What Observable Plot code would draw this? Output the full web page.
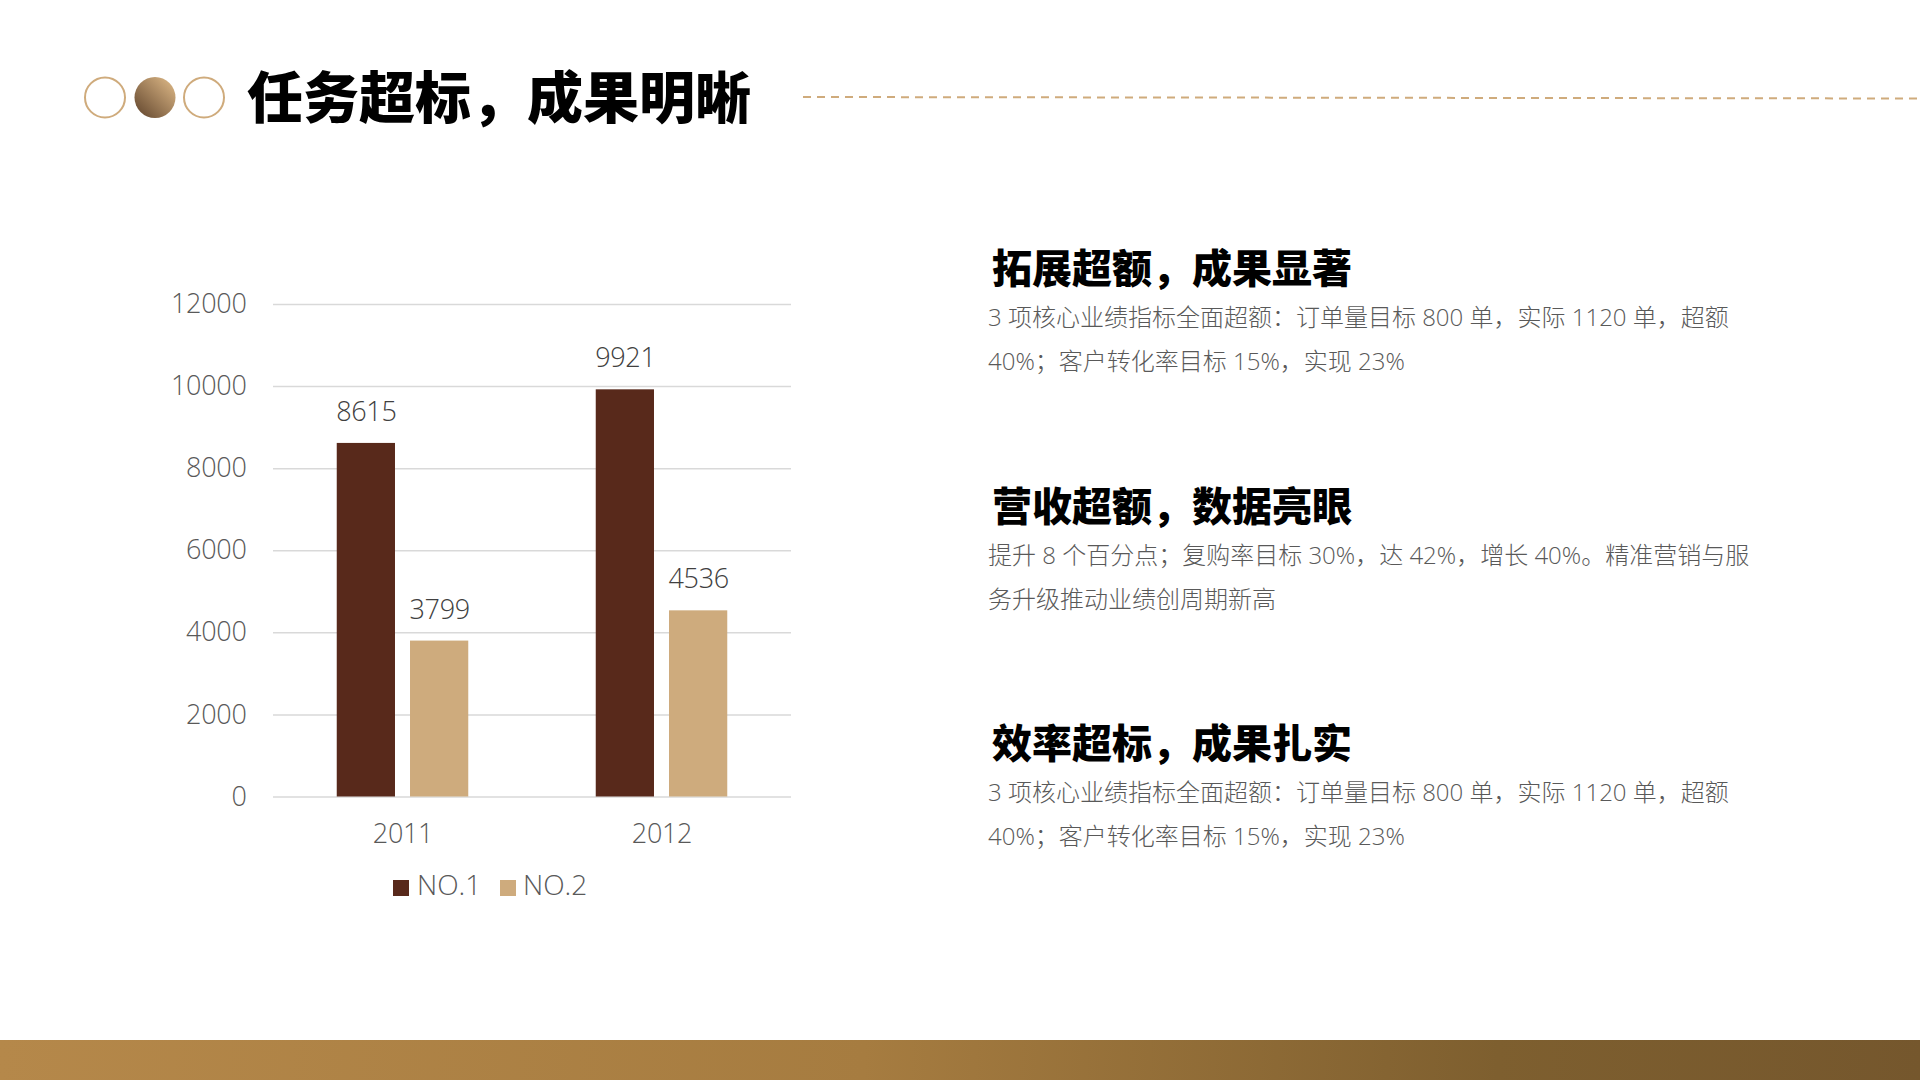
<!DOCTYPE html>
<html lang="zh"><head><meta charset="utf-8">
<script src="https://cdn.jsdelivr.net/npm/d3@7"></script>
<script src="https://cdn.jsdelivr.net/npm/@observablehq/plot@0.6"></script>
<style>
html,body{margin:0;padding:0;background:#fff}
#page{position:relative;width:1920px;height:1080px;overflow:hidden;background:#fff;font-family:"Open Sans","Noto Sans CJK SC",sans-serif}
#page>*{position:absolute}
#title{left:247px;top:54px;font:900 56px/80px "Noto Sans CJK SC",sans-serif;color:#000;white-space:nowrap}
.h{left:992px;font:900 40px/50px "Noto Sans CJK SC",sans-serif;color:#000;white-space:nowrap}
.b{left:988px;font:300 24px/44px "Open Sans","Noto Sans CJK SC",sans-serif;color:#595959;white-space:nowrap}
#bar{left:0;top:1040px;width:1920px;height:40px;background:linear-gradient(92deg,#b5884a 0%,#a67c40 45%,#7e5f2f 78%,#75572d 100%)}
.lg{font:300 28px/30px "Open Sans","Noto Sans CJK SC",sans-serif;color:#595959;white-space:nowrap}
.sw{width:16px;height:16px}
#deco{left:0;top:0}
#chart{left:150px;top:270px}
</style></head>
<body><div id="page">
<svg id="deco" width="1920" height="140">
<defs><linearGradient id="g" x1="0" y1="1" x2="1" y2="0"><stop offset="0.1" stop-color="#6b4e34"/><stop offset="0.85" stop-color="#cfab7c"/></linearGradient></defs>
<circle cx="105" cy="97.5" r="20" fill="none" stroke="#cfab7c" stroke-width="2"/>
<circle cx="155" cy="97.5" r="20.5" fill="url(#g)"/>
<circle cx="204" cy="97.5" r="20" fill="none" stroke="#cfab7c" stroke-width="2"/>
<line x1="803" y1="97" x2="1920" y2="98.5" stroke="#cfab7c" stroke-width="2" stroke-dasharray="8 6"/>
</svg>
<div id="title"></div>
<div id="bar"></div>
<div id="chart"></div>
</div>
<script>
const titleText = "任务超标\uFF0C成果明晰";
const years = ["2011","2012"];
const seriesNames = ["NO.1","NO.2"];
const no1Values = [8615,9921];
const no2Values = [3799,4536];
const colors = ["#58291b","#ceab7d"];
const yTicks = [0,2000,4000,6000,8000,10000,12000];
const headings = ["拓展超额\uFF0C成果显著","营收超额\uFF0C数据亮眼","效率超标\uFF0C成果扎实"];
const bodies = [
 ["3 项核心业绩指标全面超额\uFF1A订单量目标 800 单\uFF0C实际 1120 单\uFF0C超额","40%\uFF1B客户转化率目标 15%\uFF0C实现 23%"],
 ["提升 8 个百分点\uFF1B复购率目标 30%\uFF0C达 42%\uFF0C增长 40%。精准营销与服","务升级推动业绩创周期新高"],
 ["3 项核心业绩指标全面超额\uFF1A订单量目标 800 单\uFF0C实际 1120 单\uFF0C超额","40%\uFF1B客户转化率目标 15%\uFF0C实现 23%"]
];
const headY = [240.5,478.5,715.5];
const bodyY = [295,533,770];

const rows = years.flatMap((y,i)=>[
 {year:y,series:seriesNames[0],value:no1Values[i]},
 {year:y,series:seriesNames[1],value:no2Values[i]}
]);
const tickFont = {fontFamily:'"Open Sans",sans-serif',fontWeight:300,fontSize:27,fill:"#595959"};
const plot = Plot.plot({
 width:680,height:600,marginLeft:123,marginRight:39,marginTop:34,marginBottom:73.5,
 style:{background:"transparent",overflow:"visible",letterSpacing:"-0.3px"},
 fx:{domain:years,padding:0,label:null},
 x:{domain:seriesNames,paddingInner:0.205,paddingOuter:0.87,round:false,axis:null,label:null},
 y:{domain:[0,12000],label:null},
 color:{domain:seriesNames,range:colors},
 marks:[
  Plot.ruleY(yTicks,{stroke:"#d9d9d9",strokeWidth:1.5}),
  Plot.barY(rows,{fx:"year",x:"series",y:"value",fill:"series"}),
  Plot.text(rows,{fx:"year",x:"series",y:"value",text:d=>String(d.value),dy:-31,lineAnchor:"middle",textAnchor:"middle",...tickFont,fill:"#404040"}),
  Plot.axisY({ticks:yTicks,tickSize:0,tickPadding:27,tickFormat:d=>String(d),label:null,...tickFont}),
  Plot.axisFx({anchor:"bottom",tickSize:0,tickPadding:27,label:null,...tickFont})
 ]
});
document.getElementById("chart").appendChild(plot);

const page=document.getElementById("page");
document.getElementById("title").textContent=titleText;
headings.forEach((t,i)=>{
 const h=document.createElement("div");h.className="h";h.textContent=t;h.style.top=headY[i]+"px";page.appendChild(h);
 const b=document.createElement("div");b.className="b";b.style.top=bodyY[i]+"px";
 b.innerHTML=bodies[i].join("<br>");page.appendChild(b);
});
const swX=[393,500],txtX=[417,523];
seriesNames.forEach((s,i)=>{
 const sw=document.createElement("div");sw.className="sw";sw.style.cssText=`left:${swX[i]}px;top:880px;background:${colors[i]}`;page.appendChild(sw);
 const t=document.createElement("div");t.className="lg";t.textContent=s;t.style.cssText=`left:${txtX[i]}px;top:869px`;page.appendChild(t);
});
</script>
</body></html>
